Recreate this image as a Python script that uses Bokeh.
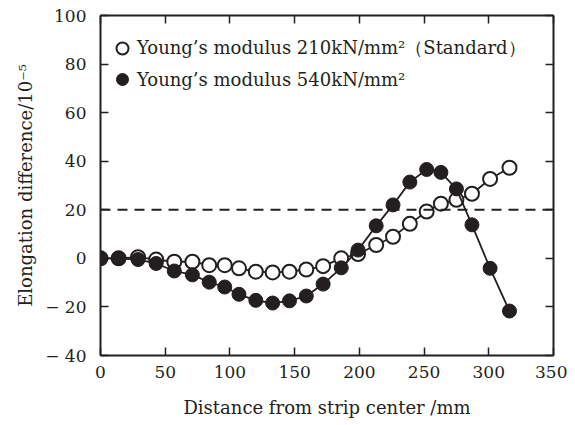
from bokeh.plotting import figure
from bokeh.models import Range1d, LinearAxis, Span, Legend, LegendItem, FixedTicker
from bokeh.embed import file_html
from bokeh.resources import INLINE

# Data
distance = [0, 14, 29, 43, 57, 71, 84, 96, 107, 120, 133, 146, 159, 172,
            186, 199, 213, 226, 239, 252, 263, 275, 287, 301, 316]
standard_210 = [0, 0, 0.5, -0.5, -1.4, -1.4, -2.8, -2.8, -4.1, -5.5, -5.8, -5.5,
                -4.6, -3.2, 0, 1.8, 5.5, 8.9, 14.2, 19.3, 22.5, 24.1, 26.6, 32.7, 37.3]
modulus_540 = [0, 0, -0.5, -2.1, -5.2, -6.8, -9.8, -11.8, -14.8, -17.3, -18.4, -17.5,
               -15.5, -10.6, -3.9, 3.4, 13.4, 22.0, 31.4, 36.6, 35.4, 28.6, 13.8, -4.1, -21.7]
x_ticks = [0, 50, 100, 150, 200, 250, 300, 350]
y_ticks = [-40, -20, 0, 20, 40, 60, 80, 100]
reference_level = 20
labels = ["Young\u2019s modulus 210kN/mm\u00b2\uff08Standard\uff09",
          "Young\u2019s modulus 540kN/mm\u00b2"]

FONT = "DejaVu Serif"
INK = "#231f20"

p = figure(width=567, height=420, output_backend="svg", toolbar_location=None,
           x_range=Range1d(0, 350), y_range=Range1d(-40, 100),
           min_border_left=100, min_border_right=14, min_border_top=15, min_border_bottom=62,
           x_axis_location=None, y_axis_location=None)
p.grid.visible = False
p.outline_line_color = None
p.background_fill_color = "white"
p.border_fill_color = "white"

def style_axis(ax, labels_on):
    ax.axis_line_width = 2
    ax.axis_line_color = INK
    ax.major_tick_in = 8
    ax.major_tick_out = 0
    ax.major_tick_line_width = 1.5
    ax.major_tick_line_color = INK
    ax.minor_tick_line_color = None
    ax.major_label_text_font = FONT
    ax.major_label_text_font_size = "17px"
    ax.major_label_text_color = INK if labels_on else None
    ax.axis_label_text_font = FONT
    ax.axis_label_text_font_style = "normal"
    ax.axis_label_text_font_size = "18px"
    ax.axis_label_text_color = INK

xb = LinearAxis(ticker=FixedTicker(ticks=x_ticks), axis_label="Distance from strip center /mm")
style_axis(xb, True)
xb.major_label_standoff = 10
xb.axis_label_standoff = 16
xt = LinearAxis(ticker=FixedTicker(ticks=x_ticks))
style_axis(xt, False)
xt.major_label_text_font_size = "0px"
yl = LinearAxis(ticker=FixedTicker(ticks=y_ticks), axis_label="Elongation difference/10\u207b\u2075")
style_axis(yl, True)
yl.major_label_standoff = 14
yl.axis_label_standoff = 6
yl.major_label_overrides = {-20: "\u2212 20", -40: "\u2212 40"}
yr = LinearAxis(ticker=FixedTicker(ticks=y_ticks))
style_axis(yr, False)
yr.major_label_text_font_size = "0px"

p.add_layout(xb, "below")
p.add_layout(xt, "above")
p.add_layout(yl, "left")
p.add_layout(yr, "right")

p.add_layout(Span(location=reference_level, dimension="width", line_color=INK,
                  line_width=2, line_dash="10 7"))

p.line(distance, standard_210, line_color=INK, line_width=1.8)
r_open = p.scatter(distance, standard_210, size=14, marker="circle",
                   line_color=INK, line_width=2, fill_color="white")
p.line(distance, modulus_540, line_color=INK, line_width=1.8)
r_fill = p.scatter(distance, modulus_540, size=14, marker="circle",
                   line_color=INK, line_width=1, fill_color=INK)

legend = Legend(items=[LegendItem(label=labels[0], renderers=[r_open]),
                       LegendItem(label=labels[1], renderers=[r_fill])],
                location=(7, 261), border_line_color=None, background_fill_alpha=0,
                label_text_font=FONT, label_text_font_size="18px", label_text_color=INK,
                glyph_width=30, glyph_height=30, label_height=20, label_standoff=0,
                spacing=1, padding=0, margin=0)
p.add_layout(legend, "center")

open("out.html", "w").write(file_html(p, INLINE))
